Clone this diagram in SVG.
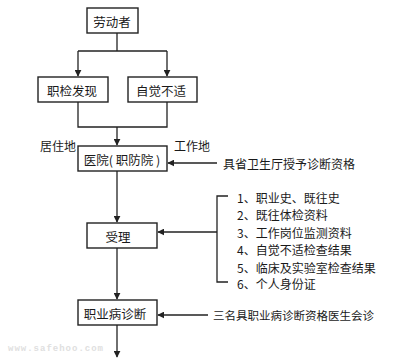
<svg xmlns="http://www.w3.org/2000/svg" width="400" height="358" viewBox="0 0 400 358">
<style>
.box{fill:#fff;stroke:#222;stroke-width:1.4}
.ln{fill:none;stroke:#222;stroke-width:1.3}
text{font-family:"Noto Sans CJK SC","Liberation Sans",sans-serif;fill:#1a1a1a;font-size:12px;dominant-baseline:central}
.c{text-anchor:middle;font-size:12.5px}
.wm{fill:#e0e0e0;font-family:"Liberation Mono",monospace;font-size:9px;font-weight:bold;letter-spacing:1px}
</style>
<defs>
<marker id="ah" viewBox="0 0 10 10" refX="9" refY="5" markerWidth="7" markerHeight="7" markerUnits="userSpaceOnUse" orient="auto">
<path d="M0,0L10,5L0,10z" fill="#222"/>
</marker>
</defs>
<rect width="400" height="358" fill="#fff"/>
<g id="connectors">
<path class="ln" d="M117,33V51"/>
<path class="ln" d="M78,51H167"/>
<path class="ln" d="M78,51V76" marker-end="url(#ah)"/>
<path class="ln" d="M167,51V76" marker-end="url(#ah)"/>
<path class="ln" d="M78,102V127H167V102"/>
<path class="ln" d="M117,127V145" marker-end="url(#ah)"/>
<path class="ln" d="M217,163H168" marker-end="url(#ah)"/>
<path class="ln" d="M117,171V222" marker-end="url(#ah)"/>
<path class="ln" d="M228,196H217V282H228"/>
<path class="ln" d="M217,232H158" marker-end="url(#ah)"/>
<path class="ln" d="M117,248V299" marker-end="url(#ah)"/>
<path class="ln" d="M208,315H158" marker-end="url(#ah)"/>
<path class="ln" d="M117,325V357" marker-end="url(#ah)"/>
</g>
<g id="n-laodongzhe"><rect class="box" x="87" y="8" width="51" height="25"/><text class="c" x="112" y="21">劳动者</text></g>
<g id="n-zhijian"><rect class="box" x="38" y="77" width="70" height="25"/><text class="c" x="72" y="90">职检发现</text></g>
<g id="n-zijue"><rect class="box" x="128" y="77" width="69" height="25"/><text class="c" x="161" y="90">自觉不适</text></g>
<g id="n-yiyuan"><rect class="box" x="78" y="146" width="89" height="25"/><text class="c" x="122" y="159">医院( 职防院 )</text></g>
<g id="n-shouli"><rect class="box" x="87" y="223" width="70" height="25"/><text class="c" x="118" y="236">受理</text></g>
<g id="n-zhenduan"><rect class="box" x="78" y="300" width="79" height="25"/><text class="c" x="115" y="313">职业病诊断</text></g>
<g id="labels">
<text x="40" y="145">居住地</text>
<text x="174" y="145">工作地</text>
<text x="223" y="163">具省卫生厅授予诊断资格</text>
<text x="237" y="197">1、职业史、既往史</text>
<text x="237" y="214">2、既往体检资料</text>
<text x="237" y="232">3、工作岗位监测资料</text>
<text x="237" y="249">4、自觉不适检查结果</text>
<text x="237" y="267">5、临床及实验室检查结果</text>
<text x="237" y="283">6、个人身份证</text>
<text x="213" y="315" style="font-size:11.5px">三名具职业病诊断资格医生会诊</text>
<text class="wm" x="8" y="349">www.safehoo.com</text>
</g>
</svg>
